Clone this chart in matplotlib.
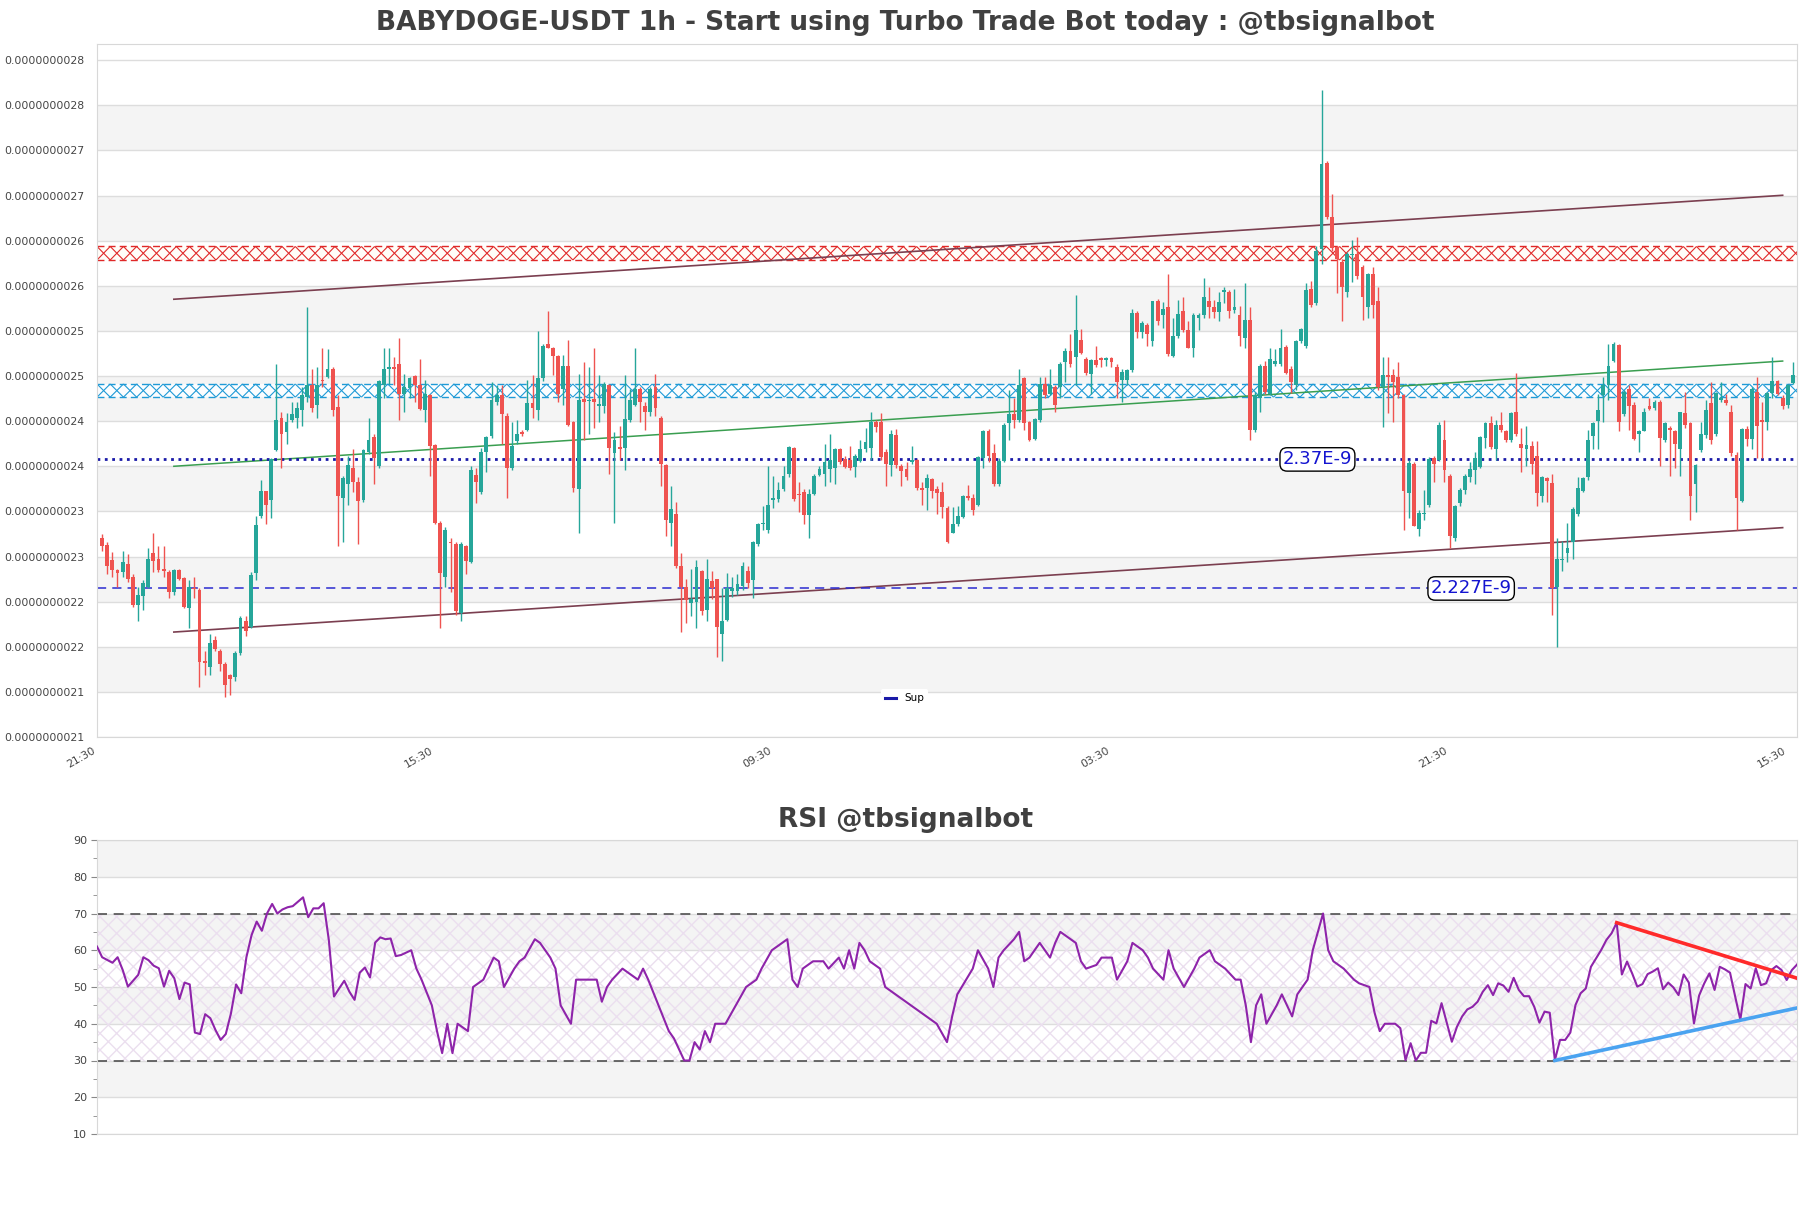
import numpy as np
import matplotlib
matplotlib.use('Agg')
import matplotlib.pyplot as plt
from matplotlib.lines import Line2D
from matplotlib.collections import LineCollection
from matplotlib.ticker import FixedLocator, FuncFormatter, MultipleLocator

# candle prices, in units of 1e-12 USDT
opens = [
    2283, 2275, 2258, 2248, 2245, 2254, 2240, 2209, 2219, 2229,
    2266, 2260, 2249, 2245, 2223, 2248, 2239, 2205, 2228, 2225,
    2147, 2140, 2170, 2158, 2143, 2131, 2129, 2156, 2191, 2184,
    2244, 2307, 2335, 2325, 2380, 2416, 2400, 2414, 2416, 2425,
    2439, 2453, 2430, 2458, 2461, 2470, 2428, 2327, 2343, 2361,
    2345, 2325, 2378, 2395, 2363, 2453, 2470, 2472, 2476, 2442,
    2449, 2462, 2453, 2425, 2441, 2386, 2300, 2240, 2279, 2276,
    2200, 2274, 2256, 2353, 2334, 2378, 2396, 2434, 2441, 2418,
    2360, 2390, 2400, 2403, 2433, 2425, 2460, 2498, 2494, 2485,
    2448, 2473, 2412, 2337, 2437, 2435, 2437, 2429, 2429, 2452,
    2377, 2384, 2383, 2414, 2430, 2448, 2429, 2423, 2450, 2416,
    2364, 2300, 2309, 2252, 2229, 2211, 2212, 2246, 2203, 2235,
    2237, 2176, 2192, 2224, 2224, 2230, 2246, 2236, 2276, 2298,
    2292, 2325, 2326, 2337, 2354, 2383, 2332, 2334, 2308, 2332,
    2353, 2354, 2359, 2361, 2381, 2371, 2369, 2362, 2368, 2381,
    2383, 2412, 2411, 2378, 2364, 2397, 2363, 2359, 2367, 2369,
    2338, 2338, 2348, 2337, 2334, 2316, 2289, 2298, 2306, 2329,
    2327, 2319, 2372, 2402, 2377, 2343, 2368, 2410, 2420, 2414,
    2460, 2412, 2393, 2414, 2454, 2442, 2450, 2450, 2478, 2490,
    2484, 2502, 2481, 2465, 2480, 2482, 2480, 2482, 2472, 2458,
    2458, 2469, 2532, 2511, 2519, 2501, 2546, 2530, 2539, 2485,
    2507, 2535, 2513, 2493, 2527, 2530, 2546, 2539, 2533, 2555,
    2556, 2536, 2530, 2505, 2524, 2403, 2438, 2473, 2443, 2476,
    2476, 2495, 2470, 2453, 2501, 2496, 2559, 2543, 2603, 2699,
    2639, 2605, 2589, 2555, 2596, 2598, 2583, 2539, 2576, 2546,
    2450, 2463, 2463, 2461, 2441, 2333, 2365, 2293, 2309, 2319,
    2372, 2369, 2392, 2352, 2283, 2322, 2336, 2350, 2358, 2362,
    2394, 2410, 2381, 2408, 2401, 2392, 2422, 2387, 2381, 2385,
    2374, 2329, 2349, 2344, 2229, 2258, 2266, 2278, 2309, 2335,
    2350, 2396, 2413, 2441, 2452, 2479, 2497, 2420, 2448, 2430,
    2398, 2402, 2429, 2427, 2434, 2392, 2405, 2401, 2381, 2421,
    2410, 2343, 2380, 2397, 2432, 2398, 2436, 2436, 2423, 2375,
    2324, 2404, 2393, 2445, 2414, 2412, 2444, 2457, 2438, 2430,
    2455,
]
highs = [
    2287, 2278, 2267, 2249, 2268, 2265, 2243, 2229, 2236, 2272,
    2288, 2274, 2274, 2247, 2249, 2249, 2240, 2236, 2240, 2227,
    2158, 2177, 2174, 2160, 2145, 2132, 2158, 2196, 2196, 2245,
    2307, 2347, 2335, 2372, 2476, 2423, 2421, 2434, 2434, 2450,
    2539, 2470, 2472, 2494, 2492, 2472, 2441, 2352, 2374, 2381,
    2350, 2381, 2416, 2398, 2458, 2494, 2493, 2483, 2505, 2465,
    2461, 2463, 2481, 2458, 2443, 2387, 2302, 2295, 2283, 2278,
    2278, 2275, 2363, 2361, 2383, 2396, 2456, 2452, 2452, 2421,
    2412, 2414, 2403, 2458, 2463, 2512, 2498, 2534, 2495, 2486,
    2486, 2502, 2413, 2465, 2478, 2472, 2494, 2463, 2456, 2454,
    2400, 2407, 2463, 2448, 2494, 2450, 2434, 2450, 2465, 2418,
    2365, 2340, 2323, 2266, 2238, 2249, 2258, 2247, 2260, 2246,
    2238, 2228, 2244, 2240, 2243, 2256, 2252, 2280, 2300, 2318,
    2363, 2352, 2345, 2363, 2385, 2384, 2345, 2337, 2337, 2354,
    2363, 2387, 2398, 2383, 2383, 2374, 2385, 2376, 2392, 2405,
    2423, 2414, 2421, 2381, 2403, 2404, 2365, 2367, 2385, 2371,
    2345, 2354, 2349, 2340, 2345, 2318, 2317, 2318, 2331, 2342,
    2332, 2374, 2403, 2404, 2387, 2372, 2410, 2447, 2438, 2470,
    2461, 2413, 2416, 2461, 2461, 2470, 2452, 2478, 2494, 2509,
    2552, 2515, 2483, 2481, 2496, 2484, 2483, 2484, 2476, 2470,
    2470, 2537, 2534, 2523, 2521, 2546, 2548, 2544, 2575, 2527,
    2547, 2550, 2523, 2532, 2532, 2571, 2561, 2547, 2556, 2561,
    2558, 2559, 2540, 2565, 2539, 2445, 2476, 2479, 2494, 2492,
    2514, 2497, 2473, 2502, 2516, 2565, 2568, 2607, 2779, 2701,
    2664, 2607, 2592, 2600, 2613, 2616, 2585, 2577, 2583, 2561,
    2483, 2483, 2470, 2478, 2443, 2369, 2367, 2314, 2336, 2373,
    2374, 2412, 2414, 2354, 2320, 2338, 2354, 2367, 2378, 2396,
    2412, 2418, 2414, 2422, 2403, 2422, 2466, 2405, 2407, 2390,
    2390, 2352, 2350, 2354, 2283, 2280, 2300, 2317, 2350, 2350,
    2403, 2412, 2443, 2461, 2498, 2500, 2498, 2447, 2452, 2434,
    2403, 2427, 2438, 2436, 2436, 2412, 2407, 2403, 2423, 2445,
    2412, 2365, 2412, 2436, 2456, 2445, 2456, 2443, 2430, 2378,
    2405, 2407, 2450, 2461, 2434, 2445, 2483, 2458, 2441, 2454,
    2478,
]
lows = [
    2269, 2243, 2240, 2229, 2240, 2234, 2207, 2191, 2203, 2227,
    2245, 2245, 2240, 2216, 2220, 2236, 2205, 2183, 2216, 2118,
    2131, 2131, 2158, 2136, 2107, 2109, 2125, 2153, 2174, 2183,
    2236, 2305, 2298, 2305, 2379, 2361, 2387, 2412, 2405, 2407,
    2434, 2423, 2416, 2450, 2460, 2418, 2274, 2278, 2320, 2334,
    2276, 2323, 2376, 2343, 2361, 2438, 2454, 2452, 2414, 2423,
    2438, 2434, 2425, 2412, 2352, 2298, 2183, 2229, 2223, 2198,
    2191, 2243, 2255, 2322, 2332, 2356, 2394, 2430, 2387, 2327,
    2358, 2387, 2396, 2402, 2416, 2414, 2457, 2494, 2463, 2434,
    2430, 2407, 2334, 2289, 2392, 2398, 2405, 2412, 2421, 2354,
    2300, 2369, 2358, 2412, 2429, 2412, 2403, 2418, 2418, 2340,
    2285, 2274, 2250, 2179, 2189, 2196, 2183, 2198, 2191, 2215,
    2151, 2147, 2191, 2218, 2220, 2225, 2227, 2216, 2274, 2292,
    2289, 2316, 2323, 2335, 2350, 2324, 2312, 2298, 2283, 2331,
    2352, 2340, 2345, 2343, 2365, 2361, 2358, 2350, 2367, 2378,
    2369, 2400, 2369, 2340, 2352, 2361, 2340, 2347, 2365, 2336,
    2320, 2314, 2327, 2309, 2305, 2277, 2288, 2296, 2305, 2325,
    2308, 2318, 2361, 2367, 2340, 2340, 2367, 2392, 2405, 2412,
    2403, 2390, 2392, 2412, 2438, 2441, 2423, 2438, 2456, 2472,
    2453, 2487, 2463, 2442, 2472, 2472, 2473, 2472, 2438, 2434,
    2452, 2467, 2505, 2505, 2496, 2496, 2519, 2516, 2485, 2484,
    2505, 2511, 2493, 2484, 2513, 2527, 2527, 2527, 2523, 2543,
    2527, 2532, 2496, 2494, 2392, 2400, 2422, 2443, 2441, 2474,
    2474, 2465, 2444, 2447, 2499, 2494, 2539, 2541, 2587, 2636,
    2601, 2554, 2523, 2550, 2567, 2570, 2525, 2527, 2527, 2447,
    2406, 2421, 2412, 2438, 2292, 2305, 2296, 2285, 2303, 2317,
    2345, 2368, 2345, 2272, 2280, 2318, 2332, 2345, 2343, 2361,
    2383, 2381, 2369, 2400, 2389, 2389, 2396, 2356, 2363, 2354,
    2318, 2323, 2323, 2198, 2162, 2246, 2256, 2260, 2307, 2334,
    2347, 2381, 2381, 2412, 2436, 2478, 2401, 2418, 2403, 2392,
    2378, 2401, 2425, 2425, 2363, 2389, 2352, 2361, 2352, 2405,
    2303, 2312, 2378, 2394, 2387, 2396, 2434, 2430, 2374, 2292,
    2323, 2385, 2381, 2372, 2372, 2403, 2438, 2441, 2426, 2427,
    2454,
]
closes = [
    2274, 2252, 2247, 2244, 2256, 2238, 2209, 2220, 2233, 2260,
    2257, 2248, 2246, 2223, 2248, 2238, 2207, 2229, 2226, 2145,
    2144, 2167, 2160, 2143, 2120, 2127, 2156, 2194, 2180, 2242,
    2297, 2335, 2319, 2370, 2414, 2398, 2412, 2420, 2427, 2441,
    2453, 2427, 2452, 2457, 2470, 2425, 2329, 2349, 2364, 2345,
    2324, 2380, 2392, 2372, 2457, 2470, 2472, 2470, 2443, 2450,
    2460, 2452, 2426, 2442, 2385, 2300, 2244, 2292, 2277, 2202,
    2276, 2257, 2358, 2345, 2378, 2395, 2436, 2441, 2420, 2361,
    2385, 2398, 2398, 2432, 2427, 2460, 2496, 2494, 2485, 2443,
    2474, 2408, 2338, 2436, 2434, 2436, 2434, 2431, 2454, 2383,
    2392, 2381, 2415, 2436, 2448, 2434, 2423, 2448, 2427, 2365,
    2303, 2315, 2252, 2229, 2214, 2215, 2251, 2202, 2238, 2227,
    2184, 2191, 2228, 2227, 2232, 2252, 2233, 2278, 2298, 2300,
    2319, 2327, 2336, 2352, 2384, 2326, 2331, 2308, 2332, 2352,
    2359, 2367, 2369, 2381, 2367, 2362, 2361, 2374, 2381, 2389,
    2411, 2406, 2373, 2365, 2398, 2364, 2357, 2350, 2369, 2338,
    2336, 2349, 2335, 2333, 2317, 2278, 2298, 2307, 2329, 2327,
    2314, 2373, 2402, 2374, 2343, 2368, 2408, 2420, 2414, 2453,
    2410, 2392, 2415, 2454, 2441, 2453, 2430, 2476, 2490, 2476,
    2513, 2488, 2466, 2480, 2475, 2480, 2482, 2478, 2456, 2467,
    2469, 2532, 2511, 2521, 2509, 2545, 2523, 2537, 2487, 2507,
    2531, 2513, 2494, 2530, 2530, 2550, 2539, 2533, 2544, 2558,
    2534, 2539, 2507, 2524, 2403, 2441, 2474, 2445, 2481, 2479,
    2494, 2466, 2456, 2501, 2515, 2558, 2541, 2601, 2697, 2639,
    2604, 2592, 2561, 2598, 2598, 2573, 2550, 2576, 2541, 2450,
    2463, 2461, 2456, 2441, 2335, 2366, 2296, 2311, 2311, 2371,
    2365, 2408, 2358, 2285, 2318, 2336, 2352, 2359, 2372, 2395,
    2410, 2384, 2408, 2403, 2392, 2421, 2398, 2383, 2386, 2365,
    2333, 2350, 2346, 2228, 2260, 2260, 2272, 2315, 2338, 2349,
    2392, 2410, 2425, 2452, 2474, 2498, 2412, 2445, 2429, 2393,
    2401, 2423, 2426, 2434, 2394, 2410, 2403, 2387, 2422, 2408,
    2329, 2364, 2398, 2425, 2392, 2444, 2438, 2432, 2377, 2327,
    2404, 2393, 2448, 2407, 2412, 2444, 2457, 2443, 2429, 2453,
    2463,
]

time_labels = ['21:30', '15:30', '09:30', '03:30', '21:30', '15:30']
time_ticks = [-1, 65, 131, 197, 263, 329]

# support / resistance, in units of 1e-9
sup_line = 2.37
sup_dash = 2.227
red_zone = (2.591, 2.606)
blue_zone = (2.439, 2.4536)

# trend lines: (start index, end index), (start price, end price) in 1e-9
chan_x = [14, 328]
chan_upper = [2.5475, 2.6627]
chan_lower = [2.1787, 2.2944]
green_line = [2.3624, 2.479]

# RSI vertices (x = bar number, 0..330)
rsi_idx = [
    0, 1, 3, 4, 5, 6, 8, 9, 10, 11, 12, 13, 14, 15, 16, 17, 18, 19, 20, 21,
    22, 23, 24, 25, 26, 27, 28, 29, 30, 31, 32, 33, 34, 35, 36, 37, 38, 39, 40, 41,
    42, 43, 44, 45, 46, 47, 48, 49, 50, 51, 52, 53, 54, 55, 56, 57, 58, 59,
    61, 62, 63, 65, 66, 67, 68, 69, 70, 72, 73, 75, 77, 78, 79, 81, 82, 83, 85, 86,
    88, 89, 90, 92, 93, 94, 97, 98, 99, 100, 102, 105, 106, 107, 109, 111, 112, 113,
    114, 115, 116, 117, 118, 119, 120, 122, 124, 126, 128, 129, 131, 134, 135, 136,
    137, 139, 141, 142, 144, 145, 146, 147, 148, 149, 150, 152, 153, 156, 158, 161,
    163, 165, 166, 167, 170, 171, 173, 174, 175, 176, 178, 179, 180, 181, 183, 184,
    185, 186, 187, 189, 190, 191, 192, 194, 195, 197, 198, 200, 201, 203, 204, 205,
    207, 208, 209, 211, 213, 214, 216, 217, 219, 221, 222, 223, 224, 225, 226, 227,
    229, 230, 231, 232, 233, 235, 236, 238, 239, 240, 242, 244, 245, 247, 248, 249,
    250, 252,
    253, 254, 255, 256, 257, 258, 259, 260, 261, 262, 263, 264, 265, 266, 267, 268,
    269, 270, 271, 272, 273, 274, 275, 276, 277, 278, 279, 280, 281, 282, 283, 284,
    285, 286, 287, 288, 289, 290, 291, 292, 293, 294, 295, 296, 297, 298, 299, 300,
    301, 302, 303, 304, 305, 306, 307, 308, 309, 310, 311, 312, 313, 314, 315, 316,
    317, 318, 319, 320, 321, 322, 323, 324, 325, 326, 327, 328, 329, 330,
]
rsi_val = [
    61.0, 58.1, 56.6, 58.1, 54.6, 50.1, 53.3, 58.1, 57.3, 55.8, 55.1, 50.1, 54.4, 52.4,
    46.7, 51.2, 50.7, 37.6, 37.2, 42.6,
    41.5, 38.3, 35.6, 37.2, 42.8, 50.7, 48.3, 58.1, 64.1, 67.8, 65.3, 70.0, 72.6, 70.0,
    71.1, 71.7, 72.0, 73.2, 74.4, 69.0,
    71.4, 71.4, 72.8, 62.8, 47.4, 49.6, 51.7, 48.7, 46.5, 53.9, 55.3, 52.6, 62.1, 63.5,
    63.0, 63.2, 58.4, 58.7,
    60, 55, 52, 45, 38, 32, 40, 32, 40, 38, 50, 52, 58, 57, 50, 55, 57, 58, 63, 62,
    58, 55, 45, 40, 52, 52, 52, 46, 50, 52, 55, 52, 55, 52, 45, 38, 36, 33,
    30, 30, 35, 33, 38, 35, 40, 40, 45, 50, 52, 55, 60, 63, 52, 50,
    55, 57, 57, 55, 58, 55, 60, 55, 62, 60, 57, 55, 50, 47, 45, 42,
    40, 35, 42, 48, 55, 60, 55, 50, 58, 60, 63, 65, 57, 58, 62, 60,
    58, 62, 65, 63, 62, 57, 55, 56, 58, 58, 52, 57, 62, 60, 58, 55,
    52, 60, 55, 50, 55, 58, 60, 57, 55, 52, 52, 45, 35, 45, 48, 40,
    45, 48, 45, 42, 48, 52, 60, 70, 60, 57, 55, 52, 51, 50, 43, 38,
    40, 40,
    38.8, 30.1, 34.7, 30.0, 32.1, 32.1, 40.8, 40.1, 45.6, 40.3, 35.1, 39.2, 42.0, 43.9,
    44.6, 46.0,
    48.7, 50.5, 47.8, 51.0, 50.4, 48.7, 52.5, 49.2, 47.5, 47.5, 44.6, 40.3, 43.3, 43.0,
    30.1, 35.6,
    35.6, 37.6, 45.1, 48.3, 49.6, 55.5, 57.8, 60.1, 62.8, 64.6, 67.5, 53.4, 56.9, 53.7,
    50.1, 50.8,
    53.5, 54.2, 55.1, 49.4, 51.2, 49.9, 47.8, 53.4, 51.2, 40.1, 47.7, 51.0, 53.7, 49.2,
    55.5, 54.8,
    53.9, 47.4, 41.1, 50.8, 49.6, 55.1, 50.5, 51.0, 54.6, 55.7, 54.6, 51.9, 54.6, 56.1,
]
rsi_down_x = [295, 330]
rsi_down_y = [67.5, 52.4]
rsi_up_x = [283, 330]
rsi_up_y = [30, 44.3]

o = np.array(opens) * 1e-12
h = np.array(highs) * 1e-12
l = np.array(lows) * 1e-12
c = np.array(closes) * 1e-12
x = np.arange(len(o))
n = len(o)

up_col = '#26a69a'
dn_col = '#ef5350'
band_col = '#f4f4f4'
grid_col = '#dddddd'
txt_col = '#444444'

W, H = 1811, 1208
fig = plt.figure(figsize=(W / 100, H / 100), dpi=100)
ax = fig.add_axes([97 / W, 1 - 737 / H, 1700 / W, 693.5 / H])
ax2 = fig.add_axes([97 / W, 1 - 1134 / H, 1700 / W, 294 / H])

xlim = (-1, n - 0.2)
xlim2 = (0, n - 1)


def hatched_zone(lo, hi, color, face):
    # a row of X marks between two dashed borders
    ax.axhspan(lo, hi, color=face, lw=0, zorder=1)
    step = 2.58
    segs = []
    for x0 in np.arange(xlim[0], xlim[1], step):
        segs.append([(x0, lo), (x0 + step, hi)])
        segs.append([(x0, hi), (x0 + step, lo)])
    ax.add_collection(LineCollection(segs, colors=color, lw=0.8, zorder=1.2))
    for yy in (lo, hi):
        ax.axhline(yy, color=color, ls=(0, (5, 3)), lw=1, zorder=1.3)


# ---- price panel ----
ymin, ymax = 2.0624e-9, 2.8309e-9
yt = [ymin + 0.05e-9 * k for k in range(16)]
for k in range(1, 15, 2):
    ax.axhspan(yt[k], yt[k + 1], color=band_col, zorder=0, lw=0)
for t in yt:
    ax.axhline(t, color=grid_col, lw=1, zorder=0.5)

hatched_zone(red_zone[0] * 1e-9, red_zone[1] * 1e-9, '#e02828', '#fffdf8')
hatched_zone(blue_zone[0] * 1e-9, blue_zone[1] * 1e-9, '#1f9ad6', '#fbfdff')

ax.plot(chan_x, np.array(chan_upper) * 1e-9, color='#7b3f50', lw=1.2, zorder=2)
ax.plot(chan_x, np.array(chan_lower) * 1e-9, color='#7b3f50', lw=1.2, zorder=2)
ax.plot(chan_x, np.array(green_line) * 1e-9, color='#3a9e50', lw=1.1, zorder=2)

ax.axhline(sup_line * 1e-9, color='#1a1aa8', ls=':', lw=2.0, zorder=2)
ax.axhline(sup_dash * 1e-9, color='#2a2ad0', ls=(0, (6, 4)), lw=1.1, zorder=2)

up = c >= o
cols = np.where(up, up_col, dn_col)
ax.vlines(x, l, h, colors=cols, lw=1, zorder=3)
body_lo = np.minimum(o, c)
body_h = np.maximum(np.abs(c - o), 0.6e-12)
ax.bar(x, body_h, bottom=body_lo, width=0.75, color=cols, zorder=4, lw=0)

box = dict(boxstyle='round,pad=0.15,rounding_size=0.4', fc='white', ec='black', lw=1)
ax.text(237.2, sup_line * 1e-9, '2.37E-9', color='#1414d0', fontsize=13, ha='center',
        va='center', bbox=box, zorder=6)
ax.text(267.2, sup_dash * 1e-9, '2.227E-9', color='#1414d0', fontsize=13, ha='center',
        va='center', bbox=box, zorder=6)

ax.set_xlim(*xlim)
ax.set_ylim(ymin, ymax)
ax.yaxis.set_major_locator(FixedLocator(yt))
ax.yaxis.set_major_formatter(FuncFormatter(lambda v, p: '%.10f' % v))
ax.set_xticks(time_ticks)
ax.set_xticklabels(time_labels, rotation=30, ha='right')
ax.tick_params(axis='both', length=0, labelsize=7.8, colors=txt_col, pad=6)
ax.tick_params(axis='y', pad=9)
for s in ax.spines.values():
    s.set_color('#d8d8d8')
sup_handle = Line2D([], [], color='#1a1aa8', lw=2.2)
leg = ax.legend([sup_handle], ['Sup'], loc='lower center', bbox_to_anchor=(0.475, 0.035),
                fontsize=7.5, handlelength=1.0, frameon=True, framealpha=1, edgecolor='white')
leg.get_frame().set_linewidth(0)

fig.text(0.5, 1 - 23 / H, 'BABYDOGE-USDT 1h - Start using Turbo Trade Bot today : @tbsignalbot',
         ha='center', va='center', fontsize=19, weight='bold', color='#404040')

# ---- RSI panel ----
for lo_, hi_ in [(20, 30), (40, 50), (60, 70), (80, 90)]:
    ax2.axhspan(lo_, hi_, color=band_col, zorder=0, lw=0)
for t in range(10, 91, 10):
    ax2.axhline(t, color=grid_col, lw=1, zorder=0.5)
ax2.fill_between(xlim2, 30, 70, facecolor='none', edgecolor='#ebdfef', hatch='xx', lw=0, zorder=1)
ax2.axhline(70, color='#505050', ls=(0, (6, 4)), lw=1.2, zorder=2)
ax2.axhline(30, color='#505050', ls=(0, (6, 4)), lw=1.2, zorder=2)
ax2.plot(rsi_idx, rsi_val, color='#8e24aa', lw=1.5, zorder=3)
ax2.plot(rsi_down_x, rsi_down_y, color='#ff2a2a', lw=2.6, zorder=4)
ax2.plot(rsi_up_x, rsi_up_y, color='#4aa3f0', lw=2.6, zorder=4)
ax2.set_xlim(*xlim2)
ax2.set_ylim(10, 90)
ax2.set_xticks([])
ax2.yaxis.set_major_locator(MultipleLocator(10))
ax2.yaxis.set_minor_locator(MultipleLocator(5))
ax2.tick_params(axis='y', which='major', length=4, labelsize=8, colors=txt_col, pad=3)
ax2.tick_params(axis='y', which='minor', length=3, color='#888888')
ax2.tick_params(axis='y', which='major', color='#888888')
for s in ax2.spines.values():
    s.set_color('#d8d8d8')
fig.text(0.5, 1 - 820 / H, 'RSI @tbsignalbot', ha='center', va='center', fontsize=19,
         weight='bold', color='#404040')

fig.savefig('out.png', dpi=100)
